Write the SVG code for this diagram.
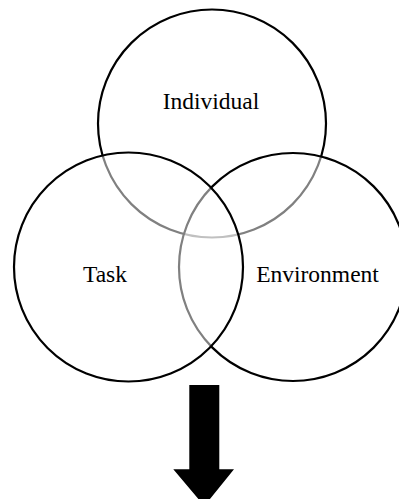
<svg xmlns="http://www.w3.org/2000/svg" width="399" height="499" viewBox="0 0 399 499">
<style>
.c{fill:#fff;fill-opacity:0.5;stroke:#000;stroke-width:2.2}
.t{font-family:"Liberation Serif","Times New Roman",serif;font-size:23.5px;fill:#000;text-anchor:middle}
</style>
<rect width="399" height="499" fill="#fff"/>
<g id="individual"><circle class="c" cx="212" cy="123.5" r="114"/><text class="t" x="211" y="109">Individual</text></g>
<g id="environment"><circle class="c" cx="293" cy="267" r="114"/><text class="t" x="317.5" y="282">Environment</text></g>
<g id="task"><circle class="c" cx="128.5" cy="267" r="114.5"/><text class="t" x="105" y="282">Task</text></g>
<g id="connectors"><polygon points="189.3,385 219.3,385 219.3,469.3 234,469.3 204.3,506 173.3,469.3 189.3,469.3" fill="#000"/></g>
</svg>
